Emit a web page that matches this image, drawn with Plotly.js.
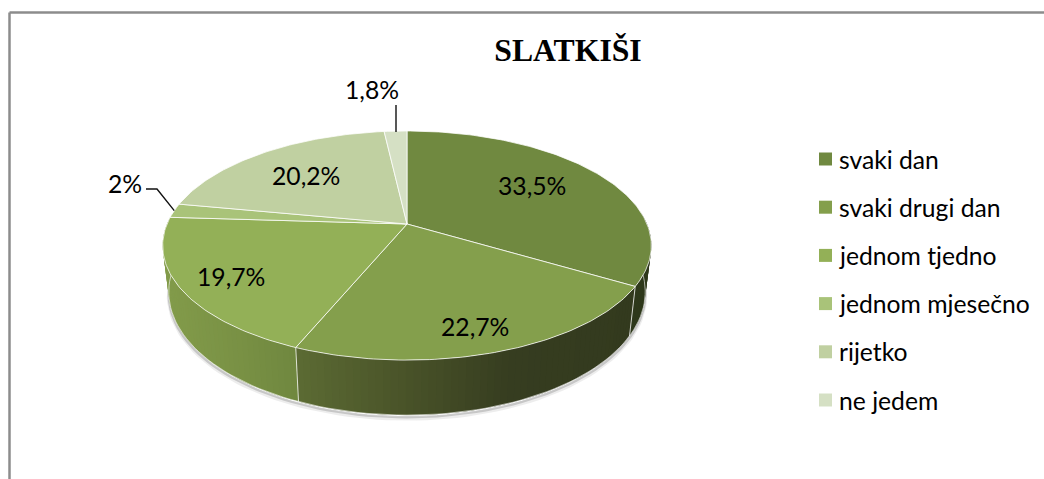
<!DOCTYPE html>
<html>
<head>
<meta charset="utf-8">
<script src="https://cdn.plot.ly/plotly-3.0.1.min.js"></script>
<style>html,body{margin:0;padding:0;background:#fff;overflow:hidden}</style>
</head>
<body>
<div id="chart" style="width:1044px;height:479px"></div>
<script>
// ---- data ----
const chartTitle = 'SLATKIŠI';
const categories = ['svaki dan','svaki drugi dan','jednom tjedno','jednom mjesečno','rijetko','ne jedem'];
const shares = [33.5,22.7,19.7,2,20.2,1.8];
const topColors = ['#708940','#849f4c','#93b057','#a9c379','#c0d0a1','#d5e0c4'];

// ---- perspective model of the disc (screen units of the hidden axes) ----
const CX=407, CY=224, RX=240, RY=110.5, PERSP=0.188, DEPTH=44.7, BOTTOM_SCALE=0.975;
function topPt(deg){
  const t=deg*Math.PI/180, u=Math.sin(t), v=Math.cos(t), d=1+PERSP*v;
  return [CX+RX*u/d, CY-RY*v/d];
}
function botPt(deg){
  const t=deg*Math.PI/180, v=Math.cos(t), d=1+PERSP*v, p=topPt(deg);
  return [CX+(p[0]-CX)*BOTTOM_SCALE, p[1]+DEPTH/d];
}
function range(a,b,step){const o=[];const n=Math.max(1,Math.ceil((b-a)/step));for(let i=0;i<=n;i++)o.push(a+(b-a)*i/n);return o;}
function hex(c){return [1,3,5].map(i=>parseInt(c.substr(i,2),16));}
function mix(stops,x){
  if(x<=stops[0][0])return stops[0][1];
  for(let i=1;i<stops.length;i++){
    if(x<=stops[i][0]){
      const f=(x-stops[i-1][0])/(stops[i][0]-stops[i-1][0]),a=hex(stops[i-1][1]),b=hex(stops[i][1]);
      return 'rgb('+a.map((q,k)=>Math.round(q+(b[k]-q)*f)).join(',')+')';
    }
  }
  return stops[stops.length-1][1];
}
const wallShade = [
  [[0,'#2e381b']],
  [[300,'#5b6a33'],[400,'#4a5429'],[510,'#363d20'],[640,'#333a1e']],
  [[165,'#829b4a'],[230,'#7a9245'],[298,'#6f873f']]
];

const total = shares.reduce((a,b)=>a+b,0);
const bounds=[0]; shares.forEach(s=>bounds.push(bounds[bounds.length-1]+s/total*360));

const traces=[];
const line=(xs,ys,color,width)=>({x:xs,y:ys,mode:'lines',line:{color,width},hoverinfo:'skip',showlegend:false});

// soft shadow below the wall
const shadowAngles=range(82,278,2);
[[3.5,'rgba(0,0,0,0.07)',4],[2,'rgba(0,0,0,0.16)',2.5]].forEach(([dy,c,w])=>{
  traces.push(line(shadowAngles.map(a=>botPt(a)[0]),shadowAngles.map(a=>botPt(a)[1]+dy),c,w));
});

// side wall strips (colour follows the slice and the horizontal position)
for(let i=0;i<3;i++){
  const a0=Math.max(bounds[i],84), a1=Math.min(bounds[i+1],276);
  const angs=range(a0,a1,1.5);
  for(let j=0;j<angs.length-1;j++){
    const next=Math.min(j+2,angs.length-1);
    const p=[topPt(angs[j]),topPt(angs[next]),botPt(angs[next]),botPt(angs[j])];
    const mx=(topPt(angs[j])[0]+topPt(angs[j+1])[0])/2;
    const col=wallShade[i].length===1?wallShade[i][0][1]:mix(wallShade[i],mx);
    traces.push({x:p.map(q=>q[0]).concat(p[0][0]),y:p.map(q=>q[1]).concat(p[0][1]),mode:'lines',fill:'toself',fillcolor:col,line:{color:col,width:0},hoverinfo:'skip',showlegend:false});
  }
}
// wall seams and bottom rim
[bounds[1],bounds[2]].forEach(b=>{
  const p=topPt(b),q=botPt(b);
  traces.push(line([p[0],q[0]],[p[1],q[1]],'rgba(255,255,255,0.75)',1));
});
const rim=range(84,276,2);
traces.push(line(rim.map(a=>botPt(a)[0]),rim.map(a=>botPt(a)[1]),'rgba(255,255,255,0.6)',1));

// top face wedges
shares.forEach((s,i)=>{
  const angs=range(bounds[i],bounds[i+1],1);
  const xs=[CX],ys=[CY];
  angs.forEach(a=>{const p=topPt(a);xs.push(p[0]);ys.push(p[1]);});
  xs.push(CX);ys.push(CY);
  traces.push({x:xs,y:ys,mode:'lines',fill:'toself',fillcolor:topColors[i],line:{color:'rgba(255,255,255,0.75)',width:1},hoverinfo:'skip',showlegend:false,name:categories[i]});
});

// leader lines for the two small slices
const lead2=topPt((bounds[3]+bounds[4])/2), lead18=topPt((bounds[5]+bounds[6])/2);
traces.push(line([146,157,lead2[0]],[189,189,lead2[1]],'#111',1.4));
traces.push(line([396,396],[105,lead18[1]+1],'#111',1.4));

// legend: swatches and captions
const LEG_X=825.5, LEG_TEXT_X=840, LEG_Y0=159, LEG_DY=48.2;
const legY=i=>LEG_Y0+i*LEG_DY;
categories.forEach((c,i)=>{
  traces.push({x:[LEG_X],y:[legY(i)],mode:'markers',name:c,marker:{symbol:'square',size:13,color:topColors[i]},hoverinfo:'skip',showlegend:false});
});

const FONT='Lato, Carlito, sans-serif';
const labelPos=[[532,185],[475,326],[231,276],[125,183],[306,175],[372,89]];
const fmt=v=>String(v).replace('.',',')+'%';
const annotations=shares.map((s,i)=>({x:labelPos[i][0],y:labelPos[i][1],xref:'x',yref:'y',text:fmt(s),showarrow:false,xanchor:'center',yanchor:'middle',font:{family:FONT,size:24.7,color:'#000'}}))
 .concat(categories.map((c,i)=>({x:LEG_TEXT_X,y:legY(i),xref:'x',yref:'y',text:c,showarrow:false,xanchor:'left',yanchor:'middle',xshift:-3,font:{family:FONT,size:24.7,color:'#000'}})));

const layout={
  width:1044,height:479,margin:{l:0,r:0,t:0,b:0},paper_bgcolor:'#fff',plot_bgcolor:'#fff',
  title:{text:'<b>'+chartTitle+'</b>',x:568/1044,xref:'paper',xanchor:'center',y:1-50/479,yref:'paper',yanchor:'middle',font:{family:'Liberation Serif, serif',size:31.7,color:'#000'}},
  xaxis:{range:[0,1044],visible:false,fixedrange:true},
  yaxis:{range:[479,0],visible:false,fixedrange:true},
  hovermode:false,
  showlegend:false,
  annotations,
  shapes:[
    {type:'line',xref:'paper',yref:'paper',x0:9.5/1044,x1:9.5/1044,y0:0,y1:1-12.5/479,line:{color:'#8c8c8c',width:2.5}},
    {type:'line',xref:'paper',yref:'paper',x0:9.5/1044,x1:1,y0:1-12.5/479,y1:1-12.5/479,line:{color:'#8c8c8c',width:2.5}}
  ]
};
Plotly.newPlot('chart',traces,layout,{displayModeBar:false,staticPlot:true});
</script>
</body>
</html>
